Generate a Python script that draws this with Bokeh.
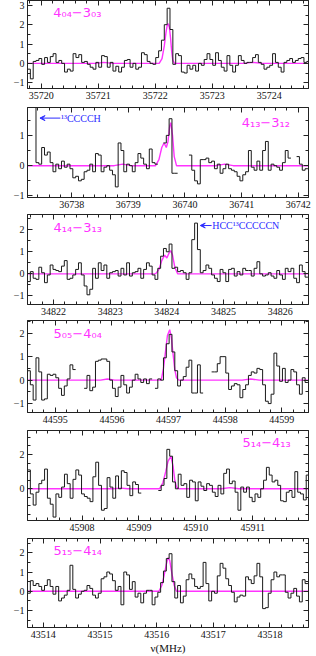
import math
from bokeh.plotting import figure
from bokeh.layouts import column
from bokeh.models import LinearAxis, SingleIntervalTicker, Range1d, Label, Arrow, VeeHead
from bokeh.embed import file_html
from bokeh.resources import INLINE

nan = float("nan")
CHAN = 0.05  # channel width (MHz)

# ---------------- data ----------------
labels = ["4₀₄−3₀₃", "4₁₃−3₁₂", "4₁₄−3₁₃", "5₀₅−4₀₄", "5₁₄−4₁₃", "5₁₅−4₁₄"]
freq_start = [35719.76, 36737.22, 34821.54, 44594.51, 45907.04, 43513.72]
freq_end = [35724.69, 36742.18, 34826.50, 44599.47, 45911.98, 43518.68]
ta_min = [-1.30, -1.05, -1.39, -1.38, -1.85, -1.88]
ta_max = [3.25, 1.92, 2.69, 2.54, 3.40, 2.74]
ytick_step = [1, 1, 1, 1, 2, 1]
label_x = [35720.21, 36741.00, 34822.00, 44594.97, 45910.82, 43514.18]
label_y = [2.62, 1.44, 2.12, 1.97, 2.72, 2.14]

t404 = [-0.3, -0.8, 0.1, 0.15, 0.25, -0.05, 0.3, 0.05, 0.35, 0.5,
        0.05, 0.15, 0.0, -0.45, -0.3, -0.4, 0.5, 0.3, 0.45, 0.05,
        0.1, -0.05, -0.2, -0.3, 0.05, -0.2, 0.4, 0.35, -0.2, 0.05,
        -0.4, -0.15, -0.45, -0.2, 0.15, 0.2, -0.2, 0.0, -0.3, -0.2,
        0.55, 0.45, 0.1, 0.0, -0.05, 0.3, 0.65, 1.2, 2.0, 2.85,
        1.75, -0.05, 0.5, 0.4, -0.45, -0.5, -0.1, -0.3, -0.1, -0.4,
        0.0, -0.1, 0.2, 0.5, 0.2, -0.1, 0.55, 0.15, -0.2, -0.4,
        0.4, -0.1, -0.45, -0.1, 0.4, 0.15, 0.0, 0.05, 0.05, 0.3,
        0.45, 0.05, -0.05, -0.3, -0.2, -0.1, 0.5, 0.05, -0.2, -0.45,
        0.05, 0.15, 0.25, 0.05, 0.15, 0.25, 0.3, 0.05, 0.1]

t413 = [2.5, 2.5, 2.5, 0.1, 0.05, 0.6, 0.35, 0.45, 0.1, -0.2,
        0.05, -0.1, 0.15, -0.05, 0.05, -0.1, -0.4, -0.35, -0.5, -0.45,
        -0.2, -0.15, 0.05, -0.2, 0.4, 0.35, -0.2, -0.05, 0.0, -0.15,
        -0.3, -0.7, 0.75, 0.5, -0.2, 0.05, 0.0, -0.2, 0.1, 0.4,
        0.25, 0.05, -0.1, 0.55, 0.1, 0.05, nan, nan, 0.75, 1.0,
        1.55, -0.25, -0.25, nan, nan, nan, nan, 0.35, -0.15, -0.5,
        -0.6, 0.2, 0.2, 0.25, 0.1, 0.15, -0.1, 0.05, -0.25, -0.1,
        0.05, -0.1, -0.15, -0.2, -0.35, -0.5, -0.3, -0.2, 0.5, -0.05,
        -0.15, 0.15, -0.15, 0.5, 0.8, -0.15, 0.05, 0.0, -0.05, -0.15,
        0.1, 0.5, 0.25, nan, nan, 0.3, 0.05, -0.15, -0.1]

t414 = [-0.35, 0.1, -0.2, -0.25, 0.3, 0.05, -0.4, -0.05, 0.4, 0.2,
        0.15, 0.1, 0.35, 0.6, -0.25, -0.2, -0.05, 0.2, 0.5, -0.05,
        -0.55, -0.95, -0.7, 0.25, -0.2, 0.5, 0.15, 0.4, -0.2, 0.05,
        0.1, 0.15, -0.1, 0.25, -0.05, 0.5, -0.1, 0.05, 0.1, 0.25,
        -0.2, 0.2, 0.5, 0.35, -0.05, -0.25, 0.25, 0.8, 1.15, 1.0,
        1.35, 0.25, 0.3, 0.1, 0.15, 0.05, -0.25, 0.05, 1.55, 2.3,
        1.1, 0.05, 0.15, 0.4, 0.25, -0.05, -0.2, -0.35, 0.2, 0.05,
        -0.35, 0.2, 0.25, -0.1, 0.1, -0.05, 0.25, 0.15, 0.15, -0.1,
        0.25, 0.55, 0.0, -0.1, -0.05, 0.05, -0.1, -0.2, 0.15, -0.05,
        -0.25, 0.25, 0.1, 0.25, -0.2, -0.4, 0.4, 0.1, -0.15]

t505 = [0.4, -0.2, -0.85, 0.95, 0.35, -0.85, -0.8, 0.25, 0.2, 0.25,
        0.1, -0.35, -0.65, -0.25, 0.05, 0.65, 0.45, nan, nan, nan,
        -0.35, 0.2, -0.45, -0.3, 0.8, 0.85, 0.9, 0.9, 0.8, 0.0,
        -0.35, -0.7, -0.3, 0.2, -0.2, -0.55, -0.3, 0.0, 0.25, 0.05,
        -0.1, 0.05, -0.15, 0.05, nan, -0.35, 0.05, 0.0, 0.95, 1.55,
        1.95, 1.2, 0.4, -0.25, 0.0, 0.15, 0.55, 0.85, -0.55, -0.55,
        0.65, -0.55, nan, nan, nan, 0.35, 0.35, 0.7, 1.0, 1.0,
        0.3, -0.4, -0.25, -0.15, -0.2, -0.75, -0.4, -0.2, 0.2, 0.35,
        0.3, 0.5, 0.45, -0.2, -0.9, -1.0, -0.6, 1.15, 0.6, -0.05,
        0.5, -0.1, 0.0, 0.45, 0.35, -0.2, -0.6, 0.1, -0.1]

t514 = [1.1, -0.3, -0.95, -0.2, 0.3, 0.5, 1.15, -0.55, -0.9, -1.65,
        -0.3, -0.5, 0.1, 0.85, 0.3, -0.55, 0.55, 1.1, 0.8, -0.3,
        -0.45, -0.55, -0.75, 0.7, 1.55, 0.2, -1.25, -1.15, 0.65, 0.1,
        -0.55, 0.75, 0.0, 1.05, 0.95, 0.2, -0.4, 0.4, 0.25, -0.25,
        nan, nan, nan, nan, nan, nan, -0.1, 0.2, 0.6, 2.3,
        1.9, 0.4, 0.0, 0.85, 0.2, 0.3, -0.5, 0.5, 0.4, -0.7,
        0.4, 0.15, -0.1, 0.3, 0.2, -0.2, -0.45, 0.2, -0.3, 0.9,
        1.15, 0.3, 0.45, -0.2, -1.25, 0.1, -0.2, 0.1, -0.5, -0.75,
        -0.3, -0.5, 0.0, 0.5, 1.25, 0.8, 0.4, 0.5, 0.2, -0.7,
        -0.75, -0.2, -0.1, -0.5, 1.0, -0.2, -0.3, -0.65, 0.8]

t515 = [-0.1, 0.55, 0.3, 0.4, 0.25, 0.05, 0.3, 0.6, 0.25, -0.15,
        0.25, -0.5, -0.35, -0.2, 0.05, 1.35, 0.1, -0.35, -0.15, 0.0,
        0.05, 0.3, 0.15, -0.2, -0.35, -0.1, 0.65, 0.75, 1.0, 0.9,
        0.55, 0.05, 0.25, -0.7, 1.0, 0.85, 0.1, 0.5, -0.3, -0.1,
        -0.6, -0.1, 0.05, 0.05, -0.7, -0.3, -0.05, 0.45, 1.05, 1.7,
        1.95, 0.5, -0.35, 0.3, -0.6, -0.25, 0.6, 0.9, 0.65, 0.25,
        0.15, 0.25, 1.5, 0.4, -0.5, 0.0, -0.1, 0.8, 1.45, 1.2,
        0.65, 0.3, -0.05, -0.55, -0.3, -0.2, -0.25, 0.75, 0.6, 0.4,
        0.8, 1.45, 0.75, -0.9, -0.85, -0.1, 0.6, 1.0, 0.75, 0.85,
        0.85, -0.05, -0.35, -0.1, 0.15, -0.25, -0.55, 0.6, 0.4]

# model (fit) curves
m404_x = [35719.76, 35720.95, 35721.10, 35721.25, 35722.07, 35722.12, 35722.16, 35722.19, 35722.21,
          35722.23, 35722.25, 35722.27, 35722.29, 35722.31, 35722.34, 35723.55, 35723.72, 35723.88, 35724.69]
m404_y = [0, 0, 0.05, 0, 0, 0.25, 0.9, 1.6, 1.95, 2.05, 1.85, 1.3, 0.6, 0.15, 0, 0, 0.05, 0, 0]
m413_x = [36737.22, 36738.75, 36738.90, 36739.05, 36739.48, 36739.54, 36739.59, 36739.63, 36739.67, 36739.70,
          36739.73, 36739.75, 36739.78, 36739.81, 36739.85, 36740.55, 36740.70, 36740.85, 36742.18]
m413_y = [0, 0, 0.05, 0, 0, 0.2, 0.6, 0.75, 0.6, 0.8, 1.3, 1.42, 1.0, 0.3, 0, 0, 0.05, 0, 0]
m414_x = [34821.54, 34823.80, 34823.86, 34823.91, 34823.96, 34824.00, 34824.04, 34824.07, 34824.10,
          34824.14, 34824.19, 34826.50]
m414_y = [0, 0, 0.2, 0.6, 0.85, 0.72, 0.95, 1.05, 0.85, 0.3, 0, 0]
m505_x = [44594.51, 44595.80, 44595.92, 44596.05, 44596.87, 44596.91, 44596.95, 44596.98, 44597.02,
          44597.05, 44597.08, 44597.11, 44597.14, 44597.18, 44598.30, 44598.45, 44598.60, 44599.47]
m505_y = [0, 0, 0.05, 0, 0, 0.5, 1.3, 1.9, 2.15, 1.8, 1.1, 0.45, 0.1, 0, 0, 0.05, 0, 0]
m514_x = [45907.04, 45908.55, 45908.68, 45908.80, 45909.36, 45909.42, 45909.47, 45909.51, 45909.56,
          45909.60, 45909.63, 45909.66, 45909.70, 45910.45, 45910.60, 45910.75, 45911.98]
m514_y = [0, 0, 0.04, 0, 0, 0.35, 1.0, 1.6, 1.9, 1.3, 0.5, 0.1, 0, 0, 0.07, 0, 0]
m515_x = [43513.72, 43516.04, 43516.09, 43516.13, 43516.17, 43516.20, 43516.23, 43516.27, 43516.31,
          43516.35, 43518.68]
m515_y = [0, 0, 0.3, 0.8, 1.4, 1.75, 1.6, 0.9, 0.3, 0, 0]

spectra = [t404, t413, t414, t505, t514, t515]
models = [(m404_x, m404_y), (m413_x, m413_y), (m414_x, m414_y),
          (m505_x, m505_y), (m514_x, m514_y), (m515_x, m515_y)]

# blue line identifications: (panel, arrow tail x, arrow head x, y, text)
ident_panel = [1, 2]
ident_tail = [36737.80, 34824.79]
ident_head = [36737.44, 34824.59]
ident_y = [1.57, 2.19]
ident_text = ["¹³CCCCH", "HCC¹³CCCCCN"]

MAGENTA = "#ff33ff"
BLUE = "#2b2bff"
TICK_FONT = "Liberation Serif"

# layout (pixels): frame heights and gaps below each frame
frame_h = [88, 90, 90, 92, 90, 89]
below_h = [19, 17, 16, 18, 18, 29]


def step_xy(start, vals):
    xs, ys = [], []
    for i, v in enumerate(vals):
        x0 = start + CHAN * i
        xs += [x0, x0 + CHAN]
        ys += [v, v]
    return xs, ys


def style_axis(ax, ticker, show_labels):
    ax.ticker = ticker
    ax.major_tick_in = 5
    ax.major_tick_out = 0
    ax.minor_tick_in = 3
    ax.minor_tick_out = 0
    ax.axis_line_color = "#222222"
    ax.major_tick_line_color = "#222222"
    ax.minor_tick_line_color = "#222222"
    if show_labels:
        ax.major_label_text_font = TICK_FONT
        ax.major_label_text_font_size = "10px"
        ax.major_label_text_color = "#111111"
        ax.major_label_standoff = 3
    else:
        ax.major_label_text_color = None
        ax.major_label_text_font_size = "1px"
        ax.major_label_standoff = 0


plots = []
for k in range(6):
    last = (k == 5)
    p = figure(width=316, height=frame_h[k] + below_h[k],
               x_range=Range1d(freq_start[k], freq_end[k]),
               y_range=Range1d(ta_min[k], ta_max[k]),
               output_backend="svg", toolbar_location=None,
               min_border_left=27, min_border_right=8, min_border_top=0,
               min_border_bottom=below_h[k])
    p.grid.visible = False
    p.outline_line_color = "#222222"
    p.background_fill_color = "white"

    bottom = p.xaxis[0]
    left = p.yaxis[0]
    style_axis(bottom, SingleIntervalTicker(interval=1, num_minor_ticks=5), True)
    style_axis(left, SingleIntervalTicker(interval=ytick_step[k], num_minor_ticks=2 * ytick_step[k]), True)
    bottom.formatter.use_scientific = False
    top = LinearAxis()
    style_axis(top, SingleIntervalTicker(interval=1, num_minor_ticks=5), False)
    right = LinearAxis()
    style_axis(right, SingleIntervalTicker(interval=ytick_step[k], num_minor_ticks=2 * ytick_step[k]), False)
    p.add_layout(top, "above")
    p.add_layout(right, "right")

    if last:
        bottom.axis_label = "ν(MHz)"
        bottom.axis_label_text_font = TICK_FONT
        bottom.axis_label_text_font_size = "11px"
        bottom.axis_label_text_font_style = "normal"
        bottom.axis_label_text_color = "#111111"
        bottom.axis_label_standoff = 1

    mx, my = models[k]
    p.line(mx, my, line_color=MAGENTA, line_width=1.4)
    sx, sy = step_xy(freq_start[k], spectra[k])
    p.line(sx, sy, line_color="#1a1a1a", line_width=1)

    p.add_layout(Label(x=label_x[k], y=label_y[k], text=labels[k], text_color=MAGENTA,
                       text_font="DejaVu Sans", text_font_size="13px", text_baseline="middle"))

    for j, pk in enumerate(ident_panel):
        if pk == k:
            p.add_layout(Arrow(x_start=ident_tail[j], y_start=ident_y[j], x_end=ident_head[j], y_end=ident_y[j],
                               line_color=BLUE, line_width=1,
                               end=VeeHead(size=5, line_color=BLUE, line_width=1, fill_color=BLUE)))
            p.add_layout(Label(x=ident_tail[j] + 0.01, y=ident_y[j], text=ident_text[j], text_color=BLUE,
                               text_font=TICK_FONT, text_font_size="10px", text_baseline="middle"))

    if k == 0:
        p.add_layout(Label(x=freq_start[k] - 0.37, y=-0.83, text="T*A(mK)", angle=math.pi / 2,
                           text_font=TICK_FONT, text_font_size="9px", text_align="center",
                           text_baseline="middle", text_color="#111111"))
    plots.append(p)

layout = column(*plots, spacing=0)
open("out.html", "w").write(file_html(layout, INLINE))
